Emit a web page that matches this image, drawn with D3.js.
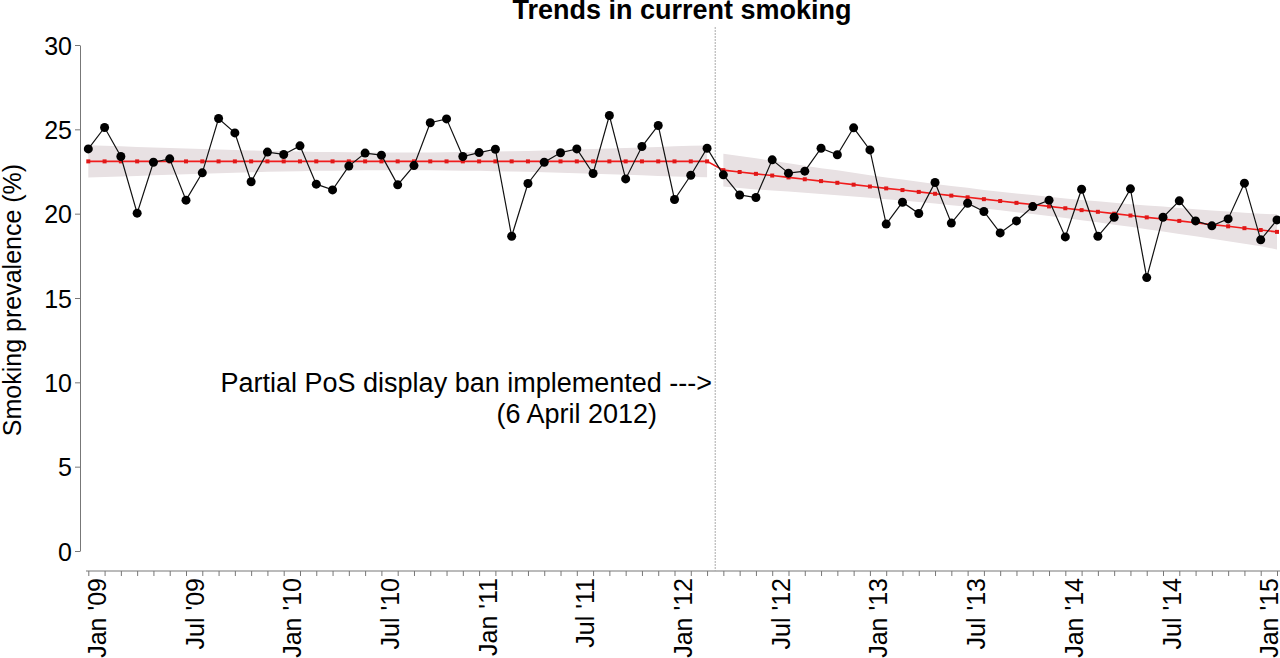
<!DOCTYPE html>
<html>
<head>
<meta charset="utf-8">
<script src="https://cdn.jsdelivr.net/npm/d3@7"></script>
<style>
  body { margin: 0; background: #fff; }
  svg { display: block; font-family: "Liberation Sans", Arial, sans-serif; }
</style>
</head>
<body>
<div id="chart"></div>
<script>
// Monthly smoking prevalence, Jan 2009 .. Feb 2015 (74 months)
const startYear = 2009;
const prevalence = [
  23.84, 25.11, 23.39, 20.03, 23.05, 23.25, 20.80, 22.42, 25.64, 24.79, 21.89, 23.65,
  23.51, 24.02, 21.75, 21.41, 22.82, 23.59, 23.47, 21.71, 22.85, 25.39, 25.62, 23.39,
  23.62, 23.82, 18.66, 21.79, 23.05, 23.61, 23.84, 22.38, 25.82, 22.06, 23.98, 25.23,
  20.84, 22.28, 23.88, 22.30, 21.11, 20.96, 23.19, 22.40, 22.52, 23.88, 23.49, 25.09,
  23.78, 19.38, 20.68, 20.01, 21.85, 19.44, 20.62, 20.13, 18.86, 19.57, 20.42, 20.80,
  18.62, 21.45, 18.66, 19.79, 21.47, 16.21, 19.79, 20.76, 19.57, 19.28, 19.69, 21.81,
  18.45, 19.63
];

// Fitted segmented trend (pre: Jan 09 - Mar 12, post: Apr 12 - Feb 15)
const trendPre = [
  23.10, 23.10, 23.10, 23.10, 23.10, 23.10, 23.10, 23.10, 23.10, 23.10, 23.10, 23.10, 23.10,
  23.10, 23.10, 23.10, 23.10, 23.10, 23.10, 23.10, 23.10, 23.10, 23.10, 23.10, 23.10, 23.10,
  23.10, 23.10, 23.10, 23.10, 23.10, 23.10, 23.10, 23.10, 23.10, 23.10, 23.10, 23.10, 23.10
];
const trendPost = [
  22.58, 22.47, 22.36, 22.26, 22.15, 22.04, 21.93, 21.83, 21.72, 21.61, 21.50, 21.40,
  21.29, 21.18, 21.07, 20.97, 20.86, 20.75, 20.64, 20.54, 20.43, 20.32, 20.21, 20.11,
  20.00, 19.89, 19.78, 19.68, 19.57, 19.46, 19.35, 19.25, 19.14, 19.03, 18.92
];

// half width of the confidence band around each trend segment
const ciPre = [
  0.96, 0.92, 0.89, 0.86, 0.82, 0.79, 0.76, 0.73, 0.70, 0.67, 0.65, 0.62, 0.60,
  0.58, 0.56, 0.55, 0.54, 0.53, 0.52, 0.52, 0.52, 0.53, 0.54, 0.55, 0.56, 0.58,
  0.60, 0.62, 0.65, 0.67, 0.70, 0.73, 0.76, 0.79, 0.82, 0.86, 0.89, 0.92, 0.94
];
const ciPost = [
  0.97, 0.95, 0.92, 0.88, 0.84, 0.80, 0.77, 0.74, 0.70, 0.67, 0.65, 0.62,
  0.60, 0.58, 0.57, 0.56, 0.55, 0.55, 0.55, 0.56, 0.57, 0.58, 0.60, 0.62,
  0.65, 0.67, 0.70, 0.74, 0.77, 0.80, 0.84, 0.88, 0.92, 0.96, 1.04
];

const monthNames = ["Jan", "Jul"];
const yTicks = [0, 5, 10, 15, 20, 25, 30];
const breakIndex = 39; // first post-ban month (Apr 2012)

const width = 1280, height = 658;

const svg = d3.select("#chart")
  .append("svg")
  .attr("width", width)
  .attr("height", height);

const x = d3.scaleLinear()
  .domain([0, prevalence.length - 1])
  .range([88.3, 1277]);

const y = d3.scaleLinear()
  .domain([0, 30])
  .range([551, 45]);

// Title
svg.append("text")
  .attr("x", 682)
  .attr("y", 19)
  .attr("text-anchor", "middle")
  .style("font-size", "27px")
  .style("font-weight", "bold")
  .text("Trends in current smoking");

// Y axis
const yAxis = svg.append("g")
  .attr("transform", "translate(80,0)")
  .call(d3.axisLeft(y).tickValues(yTicks).tickSize(5).tickSizeOuter(0));
yAxis.select(".domain").attr("stroke", "#777");
yAxis.selectAll(".tick line").attr("stroke", "#777");
yAxis.selectAll("text")
  .style("font-size", "25px")
  .attr("fill", "#000")
  .attr("x", -8)
  .attr("dy", "0.36em");

svg.append("text")
  .attr("transform", "translate(21,300) rotate(-90)")
  .attr("text-anchor", "middle")
  .style("font-size", "25px")
  .text("Smoking prevalence (%)");

// X axis: a tick every month, labels every six months
const months = d3.range(prevalence.length);
const xAxis = svg.append("g")
  .attr("transform", "translate(0,571)")
  .call(d3.axisBottom(x)
    .tickValues(months)
    .tickSize(5)
    .tickSizeOuter(0)
    .tickFormat(i => i % 6 === 0 ? `${monthNames[(i % 12) / 6]} '${String((startYear + Math.floor(i / 12)) % 100).padStart(2, "0")}` : ""));
xAxis.select(".domain").attr("stroke", "#777").attr("d", "M86,0H1280");
xAxis.selectAll(".tick line").attr("stroke", "#777");
xAxis.selectAll("text")
  .style("font-size", "25px")
  .attr("fill", "#000")
  .attr("transform", "rotate(-90)")
  .attr("x", -7)
  .attr("y", 17)
  .attr("dy", 0)
  .style("text-anchor", "end");

// Intervention line
const banX = (x(breakIndex - 1) + x(breakIndex)) / 2;
svg.append("line")
  .attr("x1", banX).attr("x2", banX)
  .attr("y1", 27).attr("y2", 571)
  .attr("stroke", "#aaa")
  .attr("stroke-width", 1)
  .attr("stroke-dasharray", "2,1");

// Confidence bands
const band = d3.area()
  .x(d => x(d.i))
  .y0(d => y(d.t - d.h))
  .y1(d => y(d.t + d.h));

const preBand = trendPre.map((t, k) => ({ i: k, t: t, h: ciPre[k] }));
const postBand = trendPost.map((t, k) => ({ i: breakIndex + k, t: t, h: ciPost[k] }));

[preBand, postBand].forEach(seg => {
  svg.append("path")
    .datum(seg)
    .attr("d", band)
    .attr("fill", "#e8e1e3");
});

// Trend line (continuous across the break)
const trend = trendPre.concat(trendPost).map((t, i) => ({ i: i, v: t }));
const line = d3.line().x(d => x(d.i)).y(d => y(d.v));

svg.append("path")
  .datum(trend)
  .attr("d", line)
  .attr("fill", "none")
  .attr("stroke", "#f01c1c")
  .attr("stroke-width", 1.6);

svg.selectAll(".trend-dot")
  .data(trend)
  .enter()
  .append("rect")
  .attr("class", "trend-dot")
  .attr("x", d => x(d.i) - 2)
  .attr("y", d => y(d.v) - 2)
  .attr("width", 4)
  .attr("height", 4)
  .attr("fill", "#e01818");

// Observed prevalence
const obs = prevalence.map((v, i) => ({ i: i, v: v }));

svg.append("path")
  .datum(obs)
  .attr("d", line)
  .attr("fill", "none")
  .attr("stroke", "#111")
  .attr("stroke-width", 1.2);

svg.selectAll(".obs-dot")
  .data(obs)
  .enter()
  .append("circle")
  .attr("class", "obs-dot")
  .attr("cx", d => x(d.i))
  .attr("cy", d => y(d.v))
  .attr("r", 4.5)
  .attr("fill", "#000");

// Annotation
svg.append("text")
  .attr("x", 712)
  .attr("y", 392)
  .attr("text-anchor", "end")
  .style("font-size", "27px")
  .text("Partial PoS display ban implemented --->");

svg.append("text")
  .attr("x", 657)
  .attr("y", 423)
  .attr("text-anchor", "end")
  .style("font-size", "27px")
  .text("(6 April 2012)");
</script>
</body>
</html>
